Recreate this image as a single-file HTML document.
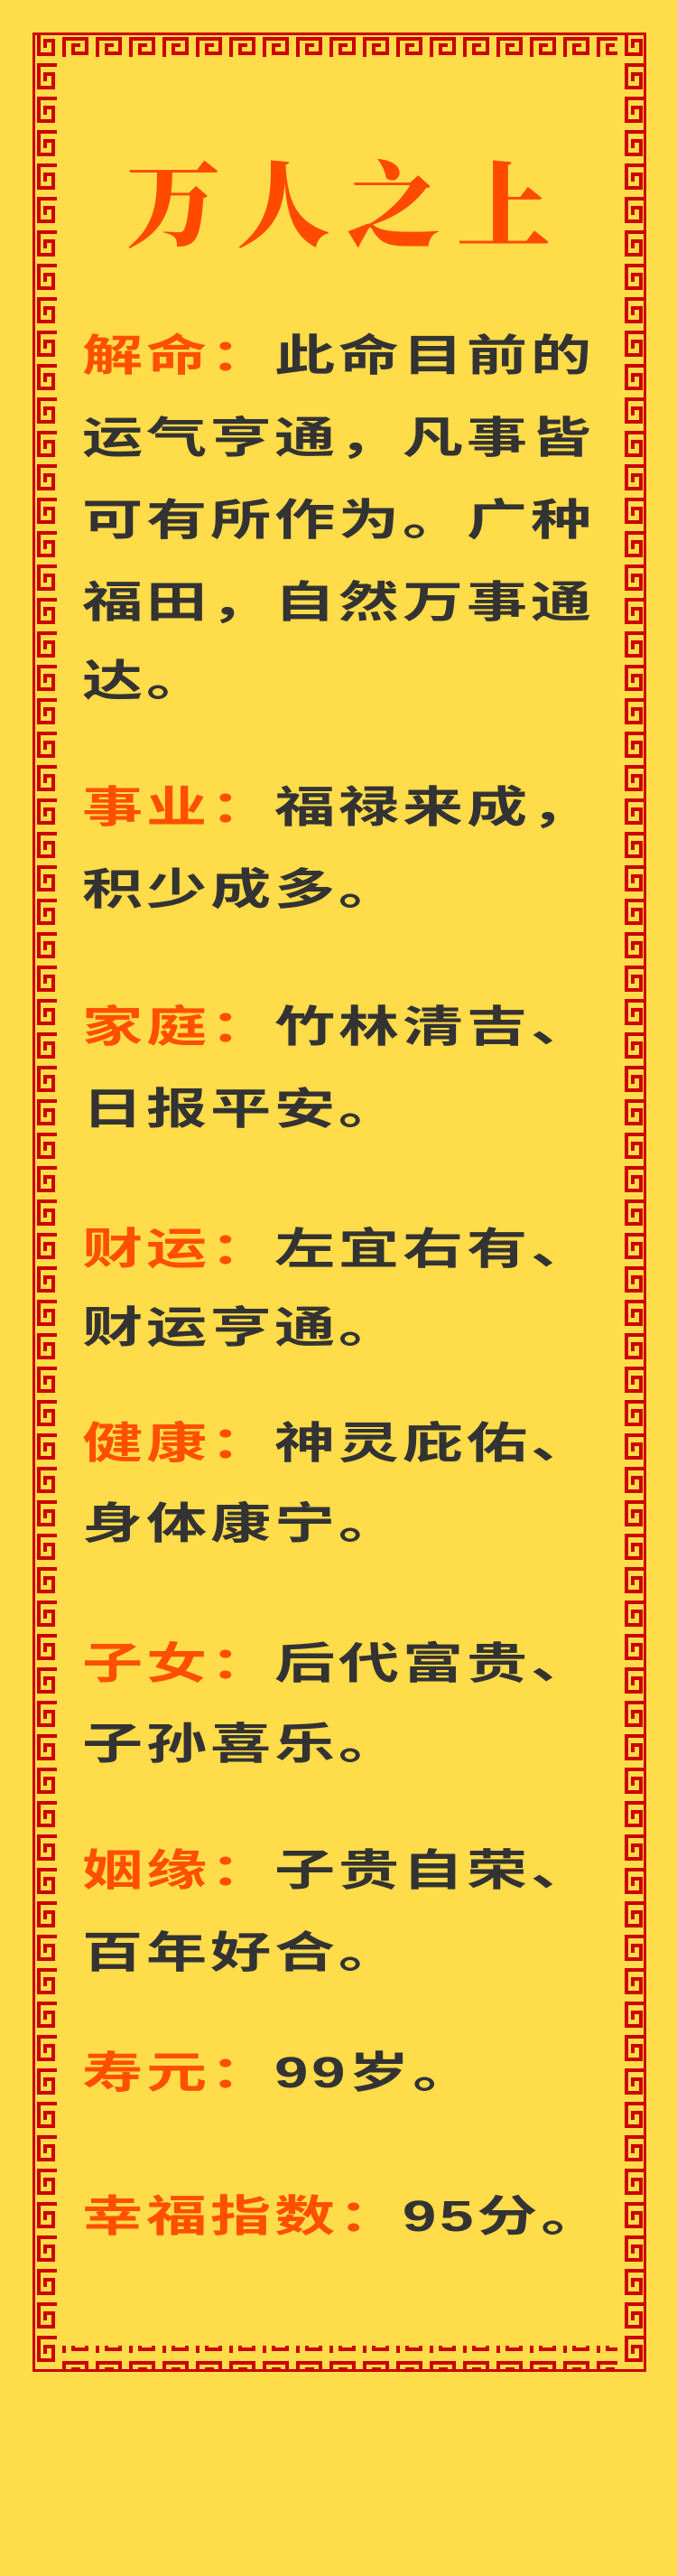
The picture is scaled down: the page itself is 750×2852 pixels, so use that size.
<!DOCTYPE html>
<html><head><meta charset="utf-8"><style>
html,body{margin:0;padding:0;}
body{width:750px;height:2852px;background:#ffdc4a;position:relative;overflow:hidden;font-family:"Liberation Sans","Noto Sans CJK SC",sans-serif;}
.ln{position:absolute;left:91px;height:52px;line-height:52px;font-size:48px;font-weight:700;color:#333;white-space:nowrap;transform:scaleX(1.40);transform-origin:0 50%;letter-spacing:2.7px;}
.lb{color:#ff4f00;}
.title{position:absolute;left:0;width:750px;top:158px;text-align:center;font-family:"Noto Serif CJK SC",serif;font-weight:900;font-size:104px;line-height:124px;color:#ff4a00;letter-spacing:18px;text-indent:18px;}
</style></head><body>
<svg width="750" height="2852" style="position:absolute;left:0;top:0">
<defs>
<pattern id="ph" patternUnits="userSpaceOnUse" x="66" y="36" width="37" height="31">
<path d="M5,27 L5,7 L30,7 L30,23 L15,23 L15,14 L23,14" fill="none" stroke="#cc0000" stroke-width="4"/>
</pattern>
<pattern id="pv" patternUnits="userSpaceOnUse" x="36" y="67" width="31" height="37">
<path d="M27,5 L7,5 L7,30 L23,30 L23,15 L14,15 L14,23" fill="none" stroke="#cc0000" stroke-width="4"/>
</pattern>
</defs>
<rect x="37.5" y="37.5" width="677" height="2587" fill="none" stroke="#cc0000" stroke-width="3"/>
<rect x="66" y="39" width="618" height="27" fill="url(#ph)"/>
<rect x="66" y="2597" width="618" height="27" fill="url(#ph)"/>
<rect x="39" y="39" width="27" height="2585" fill="url(#pv)"/>
<rect x="686" y="39" width="27" height="2585" fill="url(#pv)"/>
</svg>
<div class="title">万人之上</div>
<div class="ln" style="top:369px"><span class="lb">解命：</span>此命目前的</div>
<div class="ln" style="top:460px">运气亨通，凡事皆</div>
<div class="ln" style="top:551px">可有所作为。广种</div>
<div class="ln" style="top:642px">福田，自然万事通</div>
<div class="ln" style="top:729px">达。</div>
<div class="ln" style="top:869px"><span class="lb">事业：</span>福禄来成，</div>
<div class="ln" style="top:960px">积少成多。</div>
<div class="ln" style="top:1112px"><span class="lb">家庭：</span>竹林清吉、</div>
<div class="ln" style="top:1203px">日报平安。</div>
<div class="ln" style="top:1358px"><span class="lb">财运：</span>左宜右有、</div>
<div class="ln" style="top:1445px">财运亨通。</div>
<div class="ln" style="top:1573px"><span class="lb">健康：</span>神灵庇佑、</div>
<div class="ln" style="top:1662px">身体康宁。</div>
<div class="ln" style="top:1817px"><span class="lb">子女：</span>后代富贵、</div>
<div class="ln" style="top:1906px">子孙喜乐。</div>
<div class="ln" style="top:2046px"><span class="lb">姻缘：</span>子贵自荣、</div>
<div class="ln" style="top:2137px">百年好合。</div>
<div class="ln" style="top:2270px"><span class="lb">寿元：</span>99岁。</div>
<div class="ln" style="top:2429px"><span class="lb">幸福指数：</span>95分。</div>
</body></html>
